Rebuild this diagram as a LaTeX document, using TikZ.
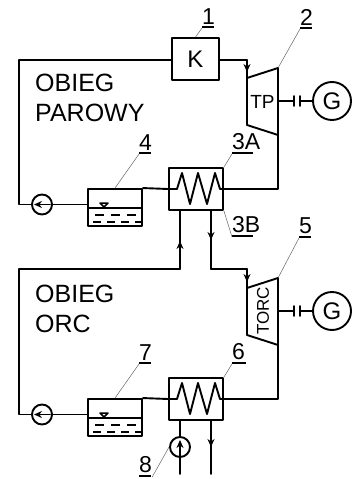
\documentclass[tikz,border=0pt]{standalone}
\usepackage{fontspec}
\setmainfont{Liberation Sans}
\usetikzlibrary{arrows.meta}
\newcommand{\tagline}[2]{\vtop{\hbox{#2}\kern2pt\hrule width #1pt height 1.7pt}}
\tikzset{
	pipe/.style={line width=1.9pt},
	part/.style={draw, pipe, inner sep=0pt},
	leader/.style={line width=0.5pt, black!60},
	flow/.style={pipe, -{Stealth[length=8pt,width=7pt]}},
	tag/.style={inner sep=0pt, anchor=south west, font=\fontsize{23}{25}\selectfont},
	caption/.style={inner sep=0pt, anchor=west, font=\fontsize{25}{27}\selectfont}
}
\begin{document}
\begin{tikzpicture}[line cap=round, line join=round, x=1pt, y=-1pt]
	\useasboundingbox (0,0) rectangle (355,479);
	% Units that repeat in both cycles: a = steam, b = ORC
	\foreach \c/\dy in {a/0, b/210} {
		\begin{scope}[yshift=-\dy pt]
			% Heat exchanger with coil
			\node[part, minimum width=54pt, minimum height=42pt] (hx\c) at (196,189) {};
			\draw[pipe] (hx\c.west) -- (177,189) -- (182,173) -- (190,204) -- (198,173)
				-- (207,204) -- (215,173) -- (220,189) -- (hx\c.east);
			% Tank with water level
			\node[part, minimum width=54pt, minimum height=37pt] (tank\c) at (115,207.5) {};
			\draw[pipe] (88,208) -- (142,208);
			\draw[pipe, dash pattern=on 9pt off 7pt, line cap=butt] (95,215) -- (137,215);
			\draw[pipe, dash pattern=on 8pt off 6pt, line cap=butt] (93,222) -- (142,222);
			\draw[line width=1.5pt] (100,203) -- (108,203) -- (104,207) -- cycle;
			% Pump
			\node[part, circle, minimum size=20pt] (pump\c) at (42,204.5) {};
			\draw[flow] (50,204.5) -- (34,204.5);
			\draw[pipe] (tank\c.west |- pump\c) -- (pump\c.east);
			\draw[pipe] (tank\c.north east) -- (hx\c.west);
			% Turbine casing
			\coordinate (in\c) at (247,78);
			\coordinate (out\c) at (278,135);
			\coordinate (top\c) at (278,68);
			\draw[pipe] (in\c) -- (top\c) -- (out\c) -- (247,125) -- cycle;
			\draw[pipe] (out\c) |- (hx\c.east);
			% Generator on the shaft
			\node[part, circle, minimum size=38pt, font=\fontsize{24}{26}\selectfont] (gen\c) at (332,101) {G};
			\coordinate (shaft\c) at (278,101);
			\draw[pipe] (shaft\c) -- (294,101);
			\draw[pipe] (300,101) -- (gen\c.west);
			\draw[pipe] (294,96) -- (294,106);
			\draw[pipe] (300,96) -- (300,106);
		\end{scope}
	}
	
	% Boiler and turbine names
	\node[part, minimum width=47pt, minimum height=42pt, font=\fontsize{24}{26}\selectfont] (boiler) at (195.5,59) {K};
	\node[inner sep=0pt, font=\fontsize{19}{21}\selectfont] at (262.5,102) {TP};
	\node[inner sep=0pt, rotate=90, font=\fontsize{17}{19}\selectfont] at (263,311) {TORC};
	
	% Steam cycle pipes
	\coordinate (boilerin) at (19,60);
	\draw[pipe] (pumpa.west) -| (boilerin) -- (boiler.west |- boilerin);
	\coordinate (tpin) at (247,72);
	\draw[pipe] (boiler.east |- boilerin) -| (ina);
	\draw[flow] (boiler.east |- boilerin) -| (tpin);
	
	% ORC cycle pipes
	\coordinate (orcup) at (180,241);
	\coordinate (orcleft) at (19,269);
	\coordinate (orcdown) at (211,240);
	\coordinate (torcin) at (247,282);
	\draw[pipe] (pumpb.west) -| (orcleft) -- (orcleft -| orcup) -- (hxa.south -| orcup);
	\draw[flow] (orcleft -| orcup) -- (orcup);
	\draw[pipe] (hxa.south -| orcdown) -- (orcdown |- orcleft) -| (inb);
	\draw[flow] (hxa.south -| orcdown) -- (orcdown);
	\draw[flow] (orcdown |- orcleft) -| (torcin);
	
	% Cooling water of the condenser
	\node[part, circle, minimum size=20pt] (pumpc) at (180,447) {};
	\coordinate (cwin) at (180,474);
	\coordinate (cwout) at (211,474);
	\coordinate (cwarrow) at (211,447);
	\draw[pipe] (hxb.south -| cwin) -- (pumpc.north);
	\draw[flow] (cwin) -- (180,440);
	\draw[pipe] (hxb.south -| cwout) -- (cwout);
	\draw[flow] (hxb.south -| cwout) -- (cwarrow);
	
	% Cycle names
	\node[caption] (steam1) at (35,83) {OBIEG};
	\node[caption] (steam2) at (35,113) {PAROWY};
	\node[caption] (orc1) at (35,294) {OBIEG};
	\node[caption] (orc2) at (35,324) {ORC};
	
	% Numbered labels
	\node[tag] (l1) at (202,28) {\tagline{12}{1}};
	\node[tag] (l2) at (300,29) {\tagline{12}{2}};
	\node[tag] (l3a) at (232,154) {\tagline{21}{3A}};
	\node[tag] (l3b) at (232,237) {\tagline{21}{3B}};
	\node[tag] (l4) at (139,154) {\tagline{12}{4}};
	\node[tag] (l5) at (299,238) {\tagline{12}{5}};
	\node[tag] (l6) at (232,364) {\tagline{14}{6}};
	\node[tag] (l7) at (139,364) {\tagline{12}{7}};
	\node[tag] (l8) at (139,477) {\tagline{12}{8}};
	
	% Leaders
	\draw[leader] (boiler.north) -- (l1.south west);
	\draw[leader] (topa) -- (l2.south west);
	\draw[leader] (hxa.north east) -- (l3a.south west);
	\draw[leader] (hxa.south east) -- (l3b.south west);
	\draw[leader] (tanka.north) -- (l4.south west);
	\draw[leader] (topb) -- (l5.south west);
	\draw[leader] (hxb.north east) -- (l6.south west);
	\draw[leader] (tankb.north) -- (l7.south west);
	\draw[leader] (pumpc.west) -- (l8.south east);
\end{tikzpicture}
\end{document}
